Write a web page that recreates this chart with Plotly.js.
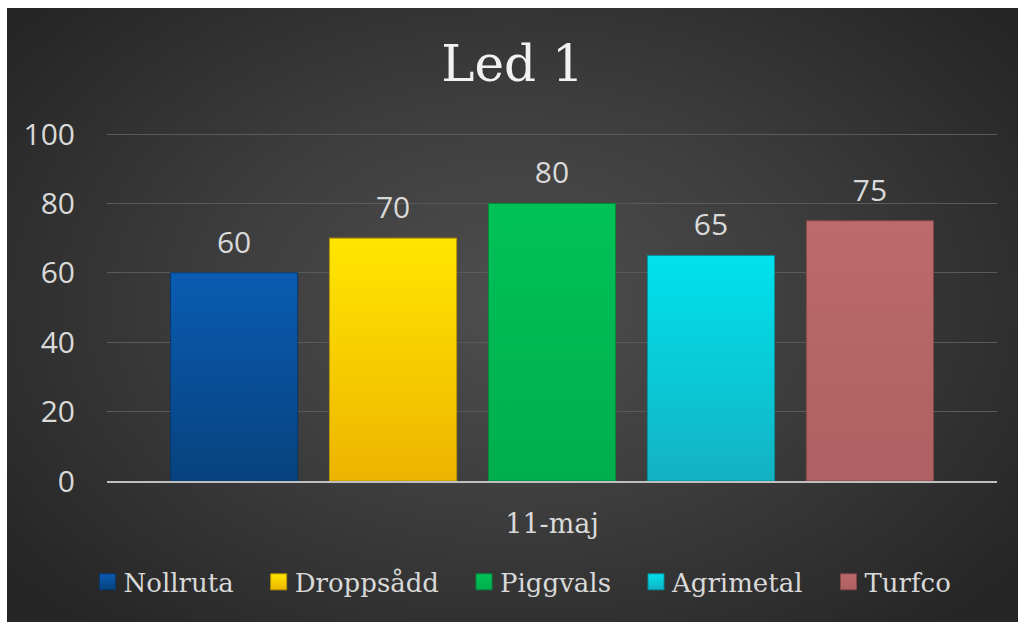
<!DOCTYPE html>
<html>
<head>
<meta charset="utf-8">
<script src="https://cdn.plot.ly/plotly-3.0.1.min.js"></script>
<style>
  html, body { margin: 0; padding: 0; background: #ffffff; width: 1018px; height: 622px; overflow: hidden; }
  #chart {
    position: absolute; left: 7px; top: 8px; width: 1011px; height: 614px;
    background: radial-gradient(ellipse 62% 70% at 50% 48%, #4e4e4e 0%, #3e3e3e 45%, #262626 100%);
  }
</style>
</head>
<body>
<div id="chart"></div>
<script>
const categories = ["11-maj"];
const seriesNames = ["Nollruta", "Droppsådd", "Piggvals", "Agrimetal", "Turfco"];
const seriesValues = [[60], [70], [80], [65], [75]];
const seriesColors = ["#08509c", "#f6cc00", "#00b853", "#08cedc", "#b86667"];
const seriesTop = ["#0a5cb2", "#ffe600", "#00c257", "#00e2ee", "#bd6a6b"];
const seriesBottom = ["#07427e", "#eeb400", "#00ae4e", "#14b2c2", "#ae6062"];
const seriesLines = ["#06386e", "#b89400", "#008a3c", "#06909a", "#84474a"];
const yTicks = [0, 20, 40, 60, 80, 100];

const traces = seriesNames.map((name, i) => ({
  type: "bar",
  name: name,
  x: categories,
  y: seriesValues[i],
  text: seriesValues[i].map(String),
  textposition: "outside",
  cliponaxis: false,
  textfont: { family: "Open Sans, sans-serif", size: 30, color: "#d9d9d9" },
  marker: { color: seriesColors[i], line: { color: seriesLines[i], width: 1 } },
  hoverinfo: "none"
}));

const layout = {
  width: 1011, height: 614,
  paper_bgcolor: "rgba(0,0,0,0)",
  plot_bgcolor: "rgba(0,0,0,0)",
  margin: { l: 100, r: 21, t: 125, b: 141 },
  barmode: "group",
  bargap: 0.107,
  bargroupgap: 0.2,
  showlegend: true,
  title: {
    text: "Led 1",
    x: 0.5, xanchor: "center",
    y: 0.909, yanchor: "middle",
    font: { family: "DejaVu Serif, serif", size: 50, color: "#f2f2f2" }
  },
  xaxis: {
    type: "category",
    showgrid: false,
    showline: true, linecolor: "#bfbfbf", linewidth: 2,
    ticks: "",
    ticklabelstandoff: 18,
    tickfont: { family: "DejaVu Serif, serif", size: 27, color: "#d9d9d9" },
    fixedrange: true
  },
  yaxis: {
    range: [0, 100.3],
    tickvals: yTicks,
    ticktext: yTicks.map(String),
    showgrid: true, gridcolor: "#5a5a5a", gridwidth: 1,
    zeroline: false,
    showline: false,
    ticks: "",
    ticklabelstandoff: 31,
    tickfont: { family: "Open Sans, sans-serif", size: 30, color: "#d9d9d9" },
    fixedrange: true
  },
  legend: {
    orientation: "h",
    x: 0.5, xanchor: "center",
    y: -0.29, yanchor: "middle",
    font: { family: "DejaVu Serif, serif", size: 26, color: "#d9d9d9" },
    itemwidth: 30,
    tracegroupgap: 0,
    bgcolor: "rgba(0,0,0,0)"
  }
};

Plotly.newPlot("chart", traces, layout, { displayModeBar: false, staticPlot: true }).then(gd => {
  const svgNS = "http://www.w3.org/2000/svg";
  const svg = gd.querySelector(".main-svg");
  let defs = svg.querySelector("defs");
  if (!defs) { defs = document.createElementNS(svgNS, "defs"); svg.insertBefore(defs, svg.firstChild); }
  seriesNames.forEach((n, i) => {
    const g = document.createElementNS(svgNS, "linearGradient");
    g.setAttribute("id", "bargrad" + i);
    g.setAttribute("x1", "0"); g.setAttribute("y1", "0");
    g.setAttribute("x2", "0"); g.setAttribute("y2", "1");
    [["0", seriesTop[i]], ["1", seriesBottom[i]]].forEach(([o, c]) => {
      const s = document.createElementNS(svgNS, "stop");
      s.setAttribute("offset", o); s.setAttribute("stop-color", c);
      g.appendChild(s);
    });
    defs.appendChild(g);
  });
  gd.querySelectorAll(".barlayer .trace").forEach((tr, i) => {
    tr.querySelectorAll("path").forEach(p => { p.style.fill = "url(#bargrad" + i + ")"; });
    tr.querySelectorAll("text.bartext").forEach(t => {
      const tf = t.getAttribute("transform") || "";
      t.setAttribute("transform", "translate(0,-8) " + tf);
    });
  });
  // legend: larger symbols and wider spacing between entries
  const sb = gd.querySelector(".legend .scrollbox");
  if (sb) sb.removeAttribute("clip-path");
  gd.querySelectorAll(".legend .traces").forEach((it, i) => {
    const tf = it.getAttribute("transform") || "";
    const m = tf.match(/translate\(\s*([-\d.]+)[ ,]+([-\d.]+)\s*\)/);
    if (m) {
      const nx = parseFloat(m[1]) + 16 * i - 64;
      it.setAttribute("transform", "translate(" + nx + "," + m[2] + ")");
    }
    it.querySelectorAll(".legendpoints path").forEach(p => {
      p.setAttribute("d", "M8,8H-8V-8H8Z");
      p.setAttribute("transform", "translate(24,0)");
      p.style.fill = "url(#bargrad" + i + ")";
    });
  });
});
</script>
</body>
</html>
